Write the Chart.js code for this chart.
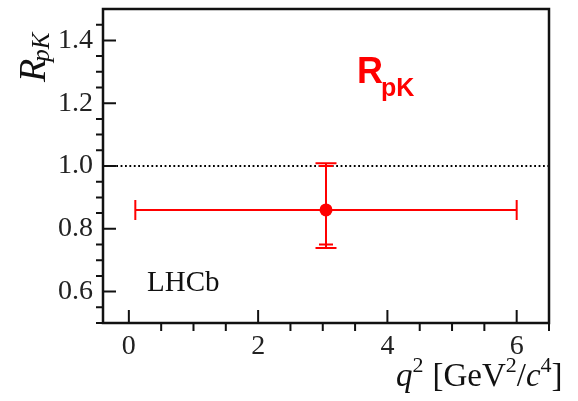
<!DOCTYPE html>
<html>
<head>
<meta charset="utf-8">
<script src="https://cdn.jsdelivr.net/npm/chart.js@4.4.1/dist/chart.umd.min.js"></script>
<style>
  html, body { margin: 0; padding: 0; background: #ffffff; }
  #wrap { width: 578px; height: 401px; }
</style>
</head>
<body>
<div id="wrap"><canvas id="c" width="578" height="401"></canvas></div>
<script>
// R_pK measurement in one q^2 bin
const binLow = [0.1];
const binHigh = [6.0];
const binCentre = [3.05];
const rpk = [0.86];
const statUp = [0.14];
const statDown = [0.11];
const totalUp = [0.149];
const totalDown = [0.121];

// axis ticks
const xMajorTicks = [0, 2, 4, 6];
const xMinorTicks = [0.5, 1, 1.5, 2.5, 3, 3.5, 4.5, 5, 5.5, 6.5];
const yMajorTicks = [0.6, 0.8, 1.0, 1.2, 1.4];
const yMinorTicks = [0.5, 0.55, 0.65, 0.7, 0.75, 0.85, 0.9, 0.95, 1.05, 1.1, 1.15, 1.25, 1.3, 1.35, 1.45];

// unity reference line
const unityLine = [1.0];

const RED = '#ff0000';
const SERIF = "'Liberation Serif', 'DejaVu Serif', serif";
const SANS = "'Liberation Sans', Arial, sans-serif";

const decorations = {
  id: 'decorations',
  beforeDatasetsDraw(chart) {
    const { ctx, chartArea: a, scales: { x, y } } = chart;
    ctx.save();
    // dotted line at R = 1
    ctx.strokeStyle = '#000';
    ctx.lineWidth = 1.8;
    ctx.setLineDash([1.8, 2.6]);
    unityLine.forEach(v => {
      const py = y.getPixelForValue(v);
      ctx.beginPath();
      ctx.moveTo(a.left, py);
      ctx.lineTo(a.right, py);
      ctx.stroke();
    });
    ctx.setLineDash([]);

    // error bars
    ctx.strokeStyle = RED;
    ctx.lineWidth = 2;
    binCentre.forEach((xc, i) => {
      const px = x.getPixelForValue(xc);
      const py = y.getPixelForValue(rpk[i]);
      const xl = x.getPixelForValue(binLow[i]);
      const xh = x.getPixelForValue(binHigh[i]);
      ctx.beginPath();
      ctx.moveTo(xl, py); ctx.lineTo(xh, py);
      ctx.moveTo(xl, py - 10); ctx.lineTo(xl, py + 10);
      ctx.moveTo(xh, py - 10); ctx.lineTo(xh, py + 10);
      const tTop = y.getPixelForValue(rpk[i] + totalUp[i]);
      const tBot = y.getPixelForValue(rpk[i] - totalDown[i]);
      const sTop = y.getPixelForValue(rpk[i] + statUp[i]);
      const sBot = y.getPixelForValue(rpk[i] - statDown[i]);
      ctx.moveTo(px, tTop); ctx.lineTo(px, tBot);
      ctx.moveTo(px - 10.5, tTop); ctx.lineTo(px + 10.5, tTop);
      ctx.moveTo(px - 10.5, tBot); ctx.lineTo(px + 10.5, tBot);
      ctx.moveTo(px - 7, sTop); ctx.lineTo(px + 7, sTop);
      ctx.moveTo(px - 7, sBot); ctx.lineTo(px + 7, sBot);
      ctx.stroke();
    });
    ctx.restore();
  },
  afterDraw(chart) {
    const { ctx, chartArea: a, scales: { x, y } } = chart;
    ctx.save();
    ctx.strokeStyle = '#111';
    ctx.lineWidth = 2.5;
    ctx.strokeRect(a.left, a.top, a.right - a.left, a.bottom - a.top);

    ctx.lineWidth = 2;
    ctx.beginPath();
    xMajorTicks.forEach(v => {
      const px = x.getPixelForValue(v);
      ctx.moveTo(px, a.bottom); ctx.lineTo(px, a.bottom - 13);
    });
    xMinorTicks.forEach(v => {
      const px = x.getPixelForValue(v);
      ctx.moveTo(px, a.bottom); ctx.lineTo(px, a.bottom + 8);
    });
    yMajorTicks.forEach(v => {
      const py = y.getPixelForValue(v);
      ctx.moveTo(a.left, py); ctx.lineTo(a.left + 13, py);
    });
    yMinorTicks.forEach(v => {
      const py = y.getPixelForValue(v);
      ctx.moveTo(a.left, py); ctx.lineTo(a.left - 7, py);
    });
    ctx.stroke();

    // experiment label
    ctx.fillStyle = '#111';
    ctx.font = '29px ' + SERIF;
    ctx.textBaseline = 'alphabetic';
    ctx.textAlign = 'left';
    ctx.fillText('LHCb', 147, 291);

    // red observable label
    ctx.fillStyle = RED;
    ctx.font = 'bold 36px ' + SANS;
    ctx.fillText('R', 357, 83);
    ctx.font = 'bold 25px ' + SANS;
    ctx.fillText('pK', 381, 96);

    // x-axis title: q^2 [GeV^2/c^4]
    ctx.fillStyle = '#111';
    const base = 386;
    let cx = 396;
    const seg = (t, font, dy) => {
      ctx.font = font;
      ctx.fillText(t, cx, base + (dy || 0));
      cx += ctx.measureText(t).width;
    };
    const big = '33px ' + SERIF, bigI = 'italic 33px ' + SERIF, sup = '22px ' + SERIF;
    seg('q', bigI);
    seg('2', sup, -14);
    cx += 9;
    seg('[GeV', big);
    seg('2', sup, -14);
    seg('/', big);
    seg('c', bigI);
    seg('4', sup, -14);
    seg(']', big);

    // y-axis title: R_pK
    ctx.save();
    ctx.translate(45, 82);
    ctx.rotate(-Math.PI / 2);
    ctx.textAlign = 'left';
    ctx.font = 'italic 38px ' + SERIF;
    ctx.fillText('R', 0, 0);
    const rw = ctx.measureText('R').width;
    ctx.font = 'italic 25px ' + SERIF;
    ctx.fillText('pK', rw - 3, 4);
    ctx.restore();

    ctx.restore();
  }
};

new Chart(document.getElementById('c'), {
  type: 'scatter',
  data: {
    datasets: [{
      data: binCentre.map((v, i) => ({ x: v, y: rpk[i] })),
      pointRadius: 6.5,
      pointHoverRadius: 6.5,
      backgroundColor: RED,
      borderColor: RED,
      borderWidth: 0,
      showLine: false
    }]
  },
  options: {
    responsive: false,
    animation: false,
    devicePixelRatio: 1,
    layout: { padding: { left: 0, top: 9, right: 29, bottom: 0 } },
    plugins: { legend: { display: false }, tooltip: { enabled: false } },
    scales: {
      x: {
        type: 'linear',
        min: -0.4,
        max: 6.5,
        afterBuildTicks: s => { s.ticks = xMajorTicks.map(v => ({ value: v })); },
        afterFit: s => { s.height = 78; s.paddingLeft = 0; s.paddingRight = 0; },
        grid: { display: false, drawTicks: false },
        border: { display: false },
        ticks: { color: '#222', font: { family: SERIF, size: 28 }, padding: 7, maxRotation: 0 }
      },
      y: {
        type: 'linear',
        min: 0.5,
        max: 1.5,
        afterBuildTicks: s => { s.ticks = yMajorTicks.map(v => ({ value: v })); },
        afterFit: s => { s.width = 103; s.paddingTop = 0; s.paddingBottom = 0; },
        grid: { display: false, drawTicks: false },
        border: { display: false },
        ticks: { color: '#222', font: { family: SERIF, size: 28 }, padding: 10, callback: v => v.toFixed(1) }
      }
    }
  },
  plugins: [decorations]
});
</script>
</body>
</html>
